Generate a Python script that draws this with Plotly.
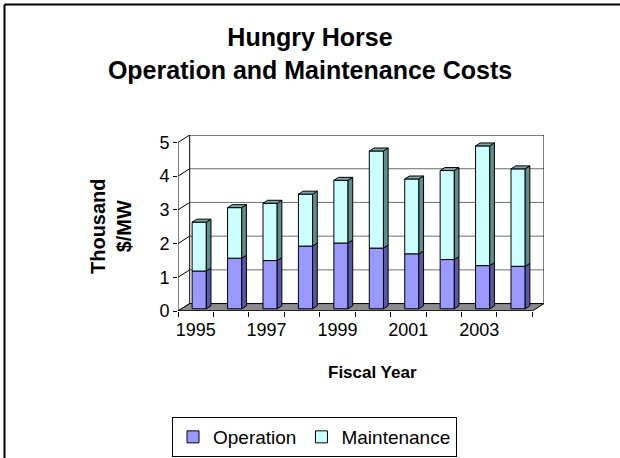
import plotly.graph_objects as go

# ---- data ----
years = [1995, 1996, 1997, 1998, 1999, 2000, 2001, 2002, 2003, 2004]
operation = [1.12, 1.50, 1.43, 1.86, 1.95, 1.80, 1.63, 1.46, 1.28, 1.26]
total = [2.57, 3.00, 3.13, 3.40, 3.81, 4.68, 3.85, 4.10, 4.83, 4.15]
maintenance = [round(t - o, 2) for t, o in zip(total, operation)]
label_years = [1995, 1997, 1999, 2001, 2003]
y_ticks = [0, 1, 2, 3, 4, 5]

# ---- style / geometry ----
FONT = "Liberation Sans, Arial, sans-serif"
W, H = 620, 458
PL, PR, PT, PB = 178, 544, 135, 311      # plot area in pixels
DX, DY = 0.33, 0.22                      # 3-D depth offset in data units
F0, F1 = 0.30, 0.70                      # bar depth (front, back) fractions
BW = 0.40                                # bar width
OP_FRONT, OP_SIDE = "#9999FF", "#5858A8"
MA_FRONT, MA_SIDE, MA_TOP = "#CCFFFF", "#5F8C8C", "#7FA8A8"
FLOOR = "#8C8C8C"

def px_x(p):
    return (p - PL) / (PR - PL)

def px_y(p):
    return (PB - p) / (PB - PT)

x_lo, x_hi = years[0] - 0.5, years[-1] + 0.5
ymax = y_ticks[-1]

fig = go.Figure()
b0 = F0 * DY
fig.add_trace(go.Bar(
    x=years, y=operation, base=[b0] * len(years), name="Operation",
    width=BW, offset=-BW / 2 + F0 * DX,
    marker=dict(color=OP_FRONT, line=dict(color="black", width=1)),
))
fig.add_trace(go.Bar(
    x=years, y=maintenance, base=[b0 + o for o in operation], name="Maintenance",
    width=BW, offset=-BW / 2 + F0 * DX,
    marker=dict(color=MA_FRONT, line=dict(color="black", width=1)),
))

shapes = []

def path(pts):
    return "M " + " L ".join(f"{x},{y}" for x, y in pts) + " Z"

# back wall gridlines and left wall diagonals
for k in y_ticks:
    col = "black" if k == ymax else "#6E6E6E"
    shapes.append(dict(type="line", xref="x", yref="y", layer="below",
                       x0=x_lo + DX, y0=k + DY, x1=x_hi + DX, y1=k + DY,
                       line=dict(color=col, width=1)))
    shapes.append(dict(type="line", xref="x", yref="y", layer="below",
                       x0=x_lo, y0=k, x1=x_lo + DX, y1=k + DY,
                       line=dict(color="black", width=1)))
# back wall vertical edges
for xv in (x_lo + DX, x_hi + DX):
    shapes.append(dict(type="line", xref="x", yref="y", layer="below",
                       x0=xv, y0=DY, x1=xv, y1=ymax + DY,
                       line=dict(color="black", width=1)))
# floor
shapes.append(dict(type="path", xref="x", yref="y", layer="below",
                   path=path([(x_lo, 0), (x_hi, 0), (x_hi + DX, DY), (x_lo + DX, DY)]),
                   fillcolor=FLOOR, line=dict(color="black", width=1)))
# front axes lines
shapes.append(dict(type="line", xref="x", yref="y", x0=x_lo, y0=0, x1=x_hi, y1=0,
                   line=dict(color="black", width=1)))
shapes.append(dict(type="line", xref="x", yref="y", x0=x_lo, y0=0, x1=x_lo, y1=ymax,
                   line=dict(color="black", width=1)))

# bar side and top faces
dd = (F1 - F0)
for yr, o, m in zip(years, operation, maintenance):
    xr = yr + BW / 2 + F0 * DX
    xl = yr - BW / 2 + F0 * DX
    segs = [(b0, b0 + o, OP_SIDE), (b0 + o, b0 + o + m, MA_SIDE)]
    for ya, yb, col in segs:
        shapes.append(dict(type="path", xref="x", yref="y",
                           path=path([(xr, ya), (xr + dd * DX, ya + dd * DY),
                                      (xr + dd * DX, yb + dd * DY), (xr, yb)]),
                           fillcolor=col, line=dict(color="black", width=1)))
    yt = b0 + o + m
    shapes.append(dict(type="path", xref="x", yref="y",
                       path=path([(xl, yt), (xr, yt), (xr + dd * DX, yt + dd * DY),
                                  (xl + dd * DX, yt + dd * DY)]),
                       fillcolor=MA_TOP, line=dict(color="black", width=1)))

# outer chart border (left and top edges visible in the frame)
shapes.append(dict(type="line", xref="paper", yref="paper",
                   x0=px_x(4.5), y0=px_y(4.5), x1=px_x(W), y1=px_y(4.5),
                   line=dict(color="black", width=2)))
shapes.append(dict(type="line", xref="paper", yref="paper",
                   x0=px_x(4.5), y0=px_y(4.5), x1=px_x(4.5), y1=px_y(H),
                   line=dict(color="black", width=2)))

annotations = [
    dict(text="<b>Thousand<br>$/MW</b>", xref="paper", yref="paper",
         x=px_x(111), y=px_y(226), xanchor="center", yanchor="middle",
         textangle=-90, showarrow=False, font=dict(size=20, color="black", family=FONT)),
    dict(text="<b>Fiscal Year</b>", xref="paper", yref="paper",
         x=px_x(372), y=px_y(372), xanchor="center", yanchor="middle",
         showarrow=False, font=dict(size=17, color="black", family=FONT)),
]

fig.update_layout(
    width=W, height=H,
    margin=dict(l=PL, r=W - PR, t=PT, b=H - PB, pad=0, autoexpand=False),
    paper_bgcolor="white", plot_bgcolor="white",
    barmode="overlay",
    font=dict(family=FONT, size=18, color="black"),
    title=dict(text="<b>Hungry Horse<br>Operation and Maintenance Costs</b>",
               x=0.5, xanchor="center", y=1 - 46 / H, yanchor="middle",
               font=dict(size=25, color="black", family=FONT)),
    xaxis=dict(range=[x_lo, x_hi + DX], tickmode="array", tickvals=label_years,
               ticktext=[str(y) for y in label_years], ticks="", showgrid=False,
               zeroline=False, showline=False, ticklabelstandoff=6,
               tickfont=dict(size=18),
               minor=dict(tickmode="array", tickvals=[y - 0.5 for y in years] + [x_hi],
                          ticks="outside", ticklen=5, tickcolor="black", showgrid=False)),
    yaxis=dict(range=[0, ymax + DY], tickmode="array", tickvals=y_ticks,
               ticks="outside", ticklen=4, tickcolor="black", showgrid=False,
               zeroline=False, showline=False, tickfont=dict(size=18)),
    showlegend=True,
    legend=dict(orientation="h", xref="container", yref="container",
                x=172 / W, y=1 - 417 / H, xanchor="left", yanchor="top",
                bordercolor="black", borderwidth=1, bgcolor="white",
                font=dict(size=19, color="black", family=FONT), traceorder="normal"),
    shapes=shapes,
    annotations=annotations,
)

fig.write_html("out.html", config={"displayModeBar": False},
               post_script="document.body.style.margin='0';")
